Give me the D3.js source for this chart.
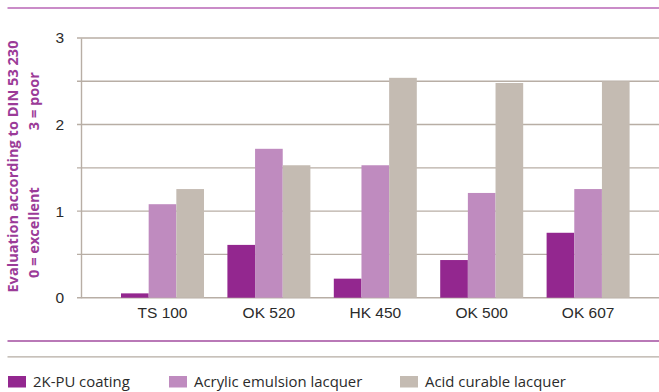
<!DOCTYPE html>
<html>
<head>
<meta charset="utf-8">
<script src="https://cdn.jsdelivr.net/npm/d3@7"></script>
<style>
  html, body { margin: 0; padding: 0; background: #fff; }
  svg { display: block; font-family: "Open Sans", "Noto Sans", sans-serif; }
</style>
</head>
<body>
<svg id="chart" width="659" height="392"></svg>
<script>
// Coating evaluation per DIN 53 230 (0 = excellent, 3 = poor)
const categories = ["TS 100", "OK 520", "HK 450", "OK 500", "OK 607"];
const seriesNames = ["2K-PU coating", "Acrylic emulsion lacquer", "Acid curable lacquer"];
const pu2k    = [0.05, 0.61, 0.22, 0.435, 0.75];
const acrylic = [1.08, 1.72, 1.53, 1.21, 1.255];
const acid    = [1.255, 1.53, 2.54, 2.48, 2.50];
const yTicks = [0, 1, 2, 3];
const colors = ["#93278f", "#bf8bbf", "#c4bbb2"];

const series = [pu2k, acrylic, acid];
const W = 659, H = 392;
const svg = d3.select("#chart");

const y = d3.scaleLinear().domain([0, 3]).range([297.7, 38]);
const x0 = d3.scaleBand().domain(categories).range([109.3, 641.3])
  .paddingInner(0.22).paddingOuter(0.11);
const x1 = d3.scaleBand().domain(d3.range(series.length)).range([0, x0.bandwidth()]);

const axisX = 81, gridColor = "#b8aea5";

// decorative rules
svg.append("line").attr("x1", 7.5).attr("x2", W).attr("y1", 8).attr("y2", 8)
  .attr("stroke", "#b866b6").attr("stroke-width", 1.4);
svg.append("line").attr("x1", 7.5).attr("x2", W).attr("y1", 341).attr("y2", 341)
  .attr("stroke", "#a24c9f").attr("stroke-width", 1.3);
svg.append("line").attr("x1", 7.5).attr("x2", W).attr("y1", 356.8).attr("y2", 356.8)
  .attr("stroke", "#b5aca3").attr("stroke-width", 1.3);

// gridlines every half unit
const grid = svg.append("g");
grid.selectAll("line").data(d3.range(0, 3.01, 0.5)).join("line")
  .attr("x1", 77).attr("x2", W)
  .attr("y1", d => y(d)).attr("y2", d => y(d))
  .attr("stroke", gridColor).attr("stroke-width", 1.4);

// bars
const groups = svg.append("g").selectAll("g").data(categories).join("g")
  .attr("transform", d => `translate(${x0(d)},0)`);
groups.selectAll("rect")
  .data((d, i) => series.map((s, k) => ({ k, v: s[i] })))
  .join("rect")
  .attr("x", d => x1(d.k))
  .attr("width", x1.bandwidth())
  .attr("y", d => y(d.v))
  .attr("height", d => y(0) - y(d.v))
  .attr("fill", d => colors[d.k]);

// y axis
const yAxis = svg.append("g").attr("transform", `translate(${axisX},0)`)
  .call(d3.axisLeft(y).tickValues(yTicks).tickSize(0).tickPadding(17).tickFormat(d3.format("d")));
yAxis.select(".domain").attr("stroke", gridColor).attr("stroke-width", 1.4);
yAxis.selectAll("text").attr("font-size", 15.5).attr("fill", "#2b2b2b");

// x axis labels
const xAxis = svg.append("g").attr("transform", `translate(0,${y(0)})`)
  .call(d3.axisBottom(x0).tickSize(0).tickPadding(9));
xAxis.select(".domain").remove();
xAxis.selectAll("text").attr("font-size", 15.5).attr("fill", "#2b2b2b");

// y axis title
const titleColor = "#9b3b98";
const titleSize = 14.6;
svg.append("text").attr("transform", "translate(17.5,166.5) rotate(-90)")
  .attr("text-anchor", "middle").attr("font-size", titleSize).attr("font-weight", "bold")
  .attr("fill", titleColor).text("Evaluation according to DIN 53 230");
svg.append("text").attr("transform", "translate(39,278) rotate(-90)")
  .attr("text-anchor", "start").attr("font-size", titleSize).attr("font-weight", "bold")
  .attr("fill", titleColor).text("0 = excellent");
svg.append("text").attr("transform", "translate(39,72) rotate(-90)")
  .attr("text-anchor", "end").attr("font-size", titleSize).attr("font-weight", "bold")
  .attr("fill", titleColor).text("3 = poor");

// legend
const legendX = [8, 169, 400];
const legend = svg.append("g").selectAll("g").data(seriesNames).join("g")
  .attr("transform", (d, i) => `translate(${legendX[i]},376)`);
legend.append("rect").attr("width", 18).attr("height", 11.5).attr("fill", (d, i) => colors[i]);
legend.append("text").attr("x", 25).attr("y", 11.3)
  .attr("font-size", 14.9).attr("fill", "#2b2b2b").text(d => d);
</script>
</body>
</html>
